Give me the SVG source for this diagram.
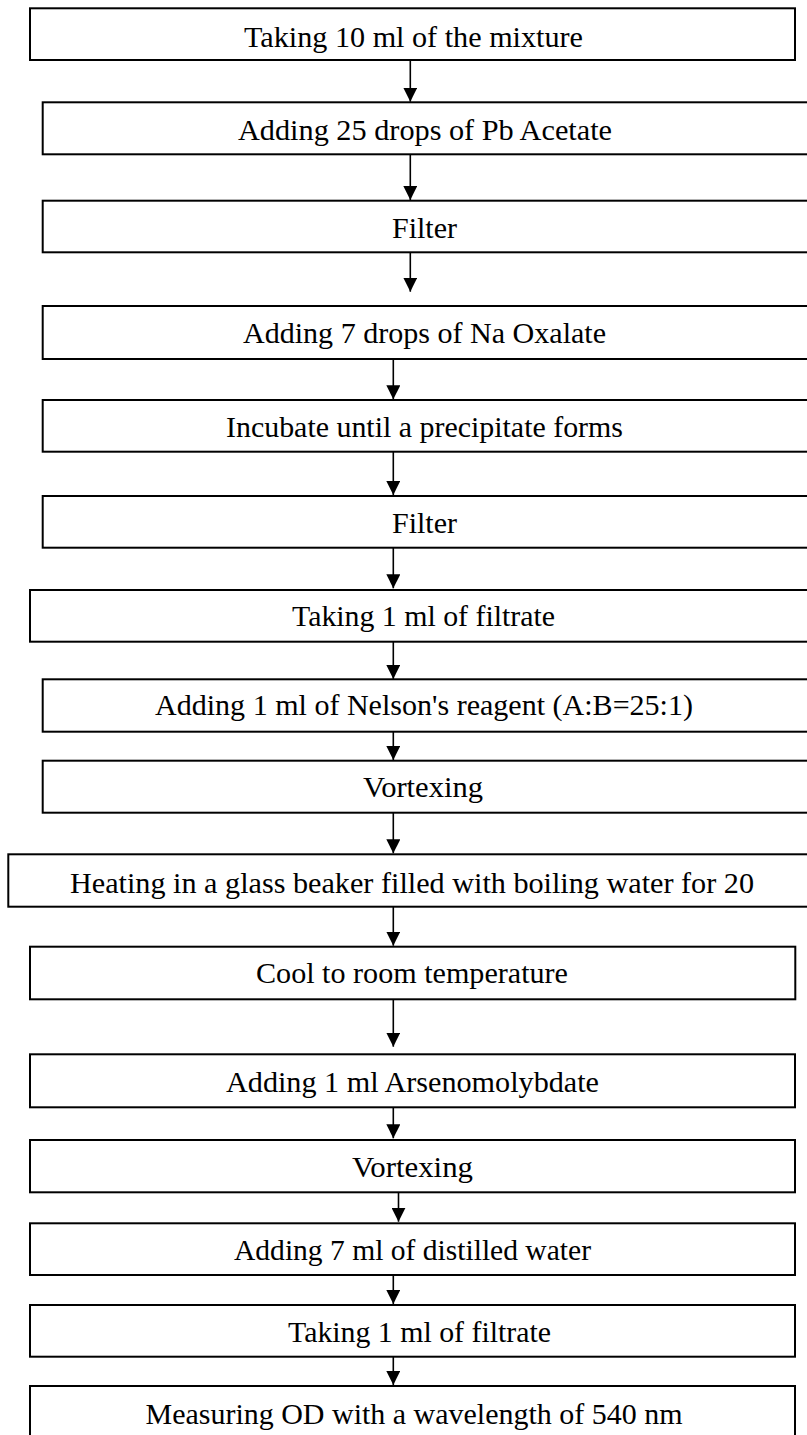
<svg xmlns="http://www.w3.org/2000/svg" width="807" height="1435" viewBox="0 0 807 1435">
<style>
.box{fill:#fff;stroke:#000;stroke-width:2}
.t{font-family:"Liberation Serif","Times New Roman",serif;font-size:30px;fill:#000;text-anchor:middle}
.c{stroke:#000;stroke-width:1.6;fill:none;marker-end:url(#ah)}
</style>
<defs>
<marker id="ah" markerUnits="userSpaceOnUse" markerWidth="14" markerHeight="14" refX="14" refY="7" orient="auto" viewBox="0 0 14 14">
<path d="M0,0 L14,7 L0,14 z" fill="#000"/>
</marker>
</defs>
<rect width="807" height="1435" fill="#fff"/>
<g id="connectors">
<line class="c" x1="410.3" y1="60" x2="410.3" y2="101.7"/>
<line class="c" x1="410.3" y1="154.3" x2="410.3" y2="200"/>
<line class="c" x1="410.3" y1="252.3" x2="410.3" y2="291.7"/>
<line class="c" x1="393.3" y1="359" x2="393.3" y2="399.3"/>
<line class="c" x1="393.3" y1="451.7" x2="393.3" y2="495"/>
<line class="c" x1="393.3" y1="547.7" x2="393.3" y2="588.3"/>
<line class="c" x1="393.3" y1="641.7" x2="393.3" y2="679"/>
<line class="c" x1="393.3" y1="731.7" x2="393.3" y2="760"/>
<line class="c" x1="393.3" y1="812.7" x2="393.3" y2="853.3"/>
<line class="c" x1="393.3" y1="906.7" x2="393.3" y2="945.7"/>
<line class="c" x1="393.3" y1="999.3" x2="393.3" y2="1046.7"/>
<line class="c" x1="393.3" y1="1107.3" x2="393.3" y2="1138.3"/>
<line class="c" x1="398.5" y1="1192.3" x2="398.5" y2="1221.7"/>
<line class="c" x1="393.3" y1="1275" x2="393.3" y2="1304"/>
<line class="c" x1="393.3" y1="1356.7" x2="393.3" y2="1385"/>
</g>
<g id="n1"><rect class="box" x="30" y="8.3" width="765" height="51.7"/><text class="t" x="413.5" y="46.7" textLength="339" lengthAdjust="spacingAndGlyphs">Taking 10 ml of the mixture</text></g>
<g id="n2"><rect class="box" x="42.7" y="102.3" width="765.3" height="52"/><text class="t" x="425" y="140" textLength="374" lengthAdjust="spacingAndGlyphs">Adding 25 drops of Pb Acetate</text></g>
<g id="n3"><rect class="box" x="42.7" y="200.7" width="765.3" height="51.6"/><text class="t" x="424.5" y="238.3" textLength="65" lengthAdjust="spacingAndGlyphs">Filter</text></g>
<g id="n4"><rect class="box" x="42.7" y="306" width="765.3" height="53"/><text class="t" x="424.5" y="343.3" textLength="363" lengthAdjust="spacingAndGlyphs">Adding 7 drops of Na Oxalate</text></g>
<g id="n5"><rect class="box" x="42.7" y="400" width="765.3" height="51.7"/><text class="t" x="424.5" y="437.3" textLength="397" lengthAdjust="spacingAndGlyphs">Incubate until a precipitate forms</text></g>
<g id="n6"><rect class="box" x="42.7" y="496" width="765.3" height="51.7"/><text class="t" x="424.5" y="533.3" textLength="65" lengthAdjust="spacingAndGlyphs">Filter</text></g>
<g id="n7"><rect class="box" x="30" y="590" width="778" height="51.7"/><text class="t" x="423.5" y="625.7" textLength="263" lengthAdjust="spacingAndGlyphs">Taking 1 ml of filtrate</text></g>
<g id="n8"><rect class="box" x="42.7" y="679.3" width="765.3" height="52.4"/><text class="t" x="424" y="715" textLength="538" lengthAdjust="spacingAndGlyphs">Adding 1 ml of Nelson's reagent (A:B=25:1)</text></g>
<g id="n9"><rect class="box" x="42.7" y="760.7" width="765.3" height="52"/><text class="t" x="423" y="797" textLength="120" lengthAdjust="spacingAndGlyphs">Vortexing</text></g>
<g id="n10"><rect class="box" x="8.3" y="854.3" width="799.7" height="52.4"/><text class="t" x="412" y="892.7" textLength="684" lengthAdjust="spacingAndGlyphs">Heating in a glass beaker filled with boiling water for 20</text></g>
<g id="n11"><rect class="box" x="30" y="946.7" width="765.3" height="52.6"/><text class="t" x="412" y="983.3" textLength="312" lengthAdjust="spacingAndGlyphs">Cool to room temperature</text></g>
<g id="n12"><rect class="box" x="30" y="1054.3" width="765" height="53"/><text class="t" x="412.5" y="1091.7" textLength="373" lengthAdjust="spacingAndGlyphs">Adding 1 ml Arsenomolybdate</text></g>
<g id="n13"><rect class="box" x="30" y="1140" width="765" height="52.3"/><text class="t" x="412.5" y="1176.7" textLength="121" lengthAdjust="spacingAndGlyphs">Vortexing</text></g>
<g id="n14"><rect class="box" x="30" y="1223.3" width="765" height="51.7"/><text class="t" x="412.5" y="1260" textLength="357" lengthAdjust="spacingAndGlyphs">Adding 7 ml of distilled water</text></g>
<g id="n15"><rect class="box" x="30" y="1305" width="765" height="51.7"/><text class="t" x="419.5" y="1341.7" textLength="263" lengthAdjust="spacingAndGlyphs">Taking 1 ml of filtrate</text></g>
<g id="n16"><rect class="box" x="30" y="1386" width="765" height="60"/><text class="t" x="414" y="1423.5" textLength="537" lengthAdjust="spacingAndGlyphs">Measuring OD with a wavelength of 540 nm</text></g>
</svg>
